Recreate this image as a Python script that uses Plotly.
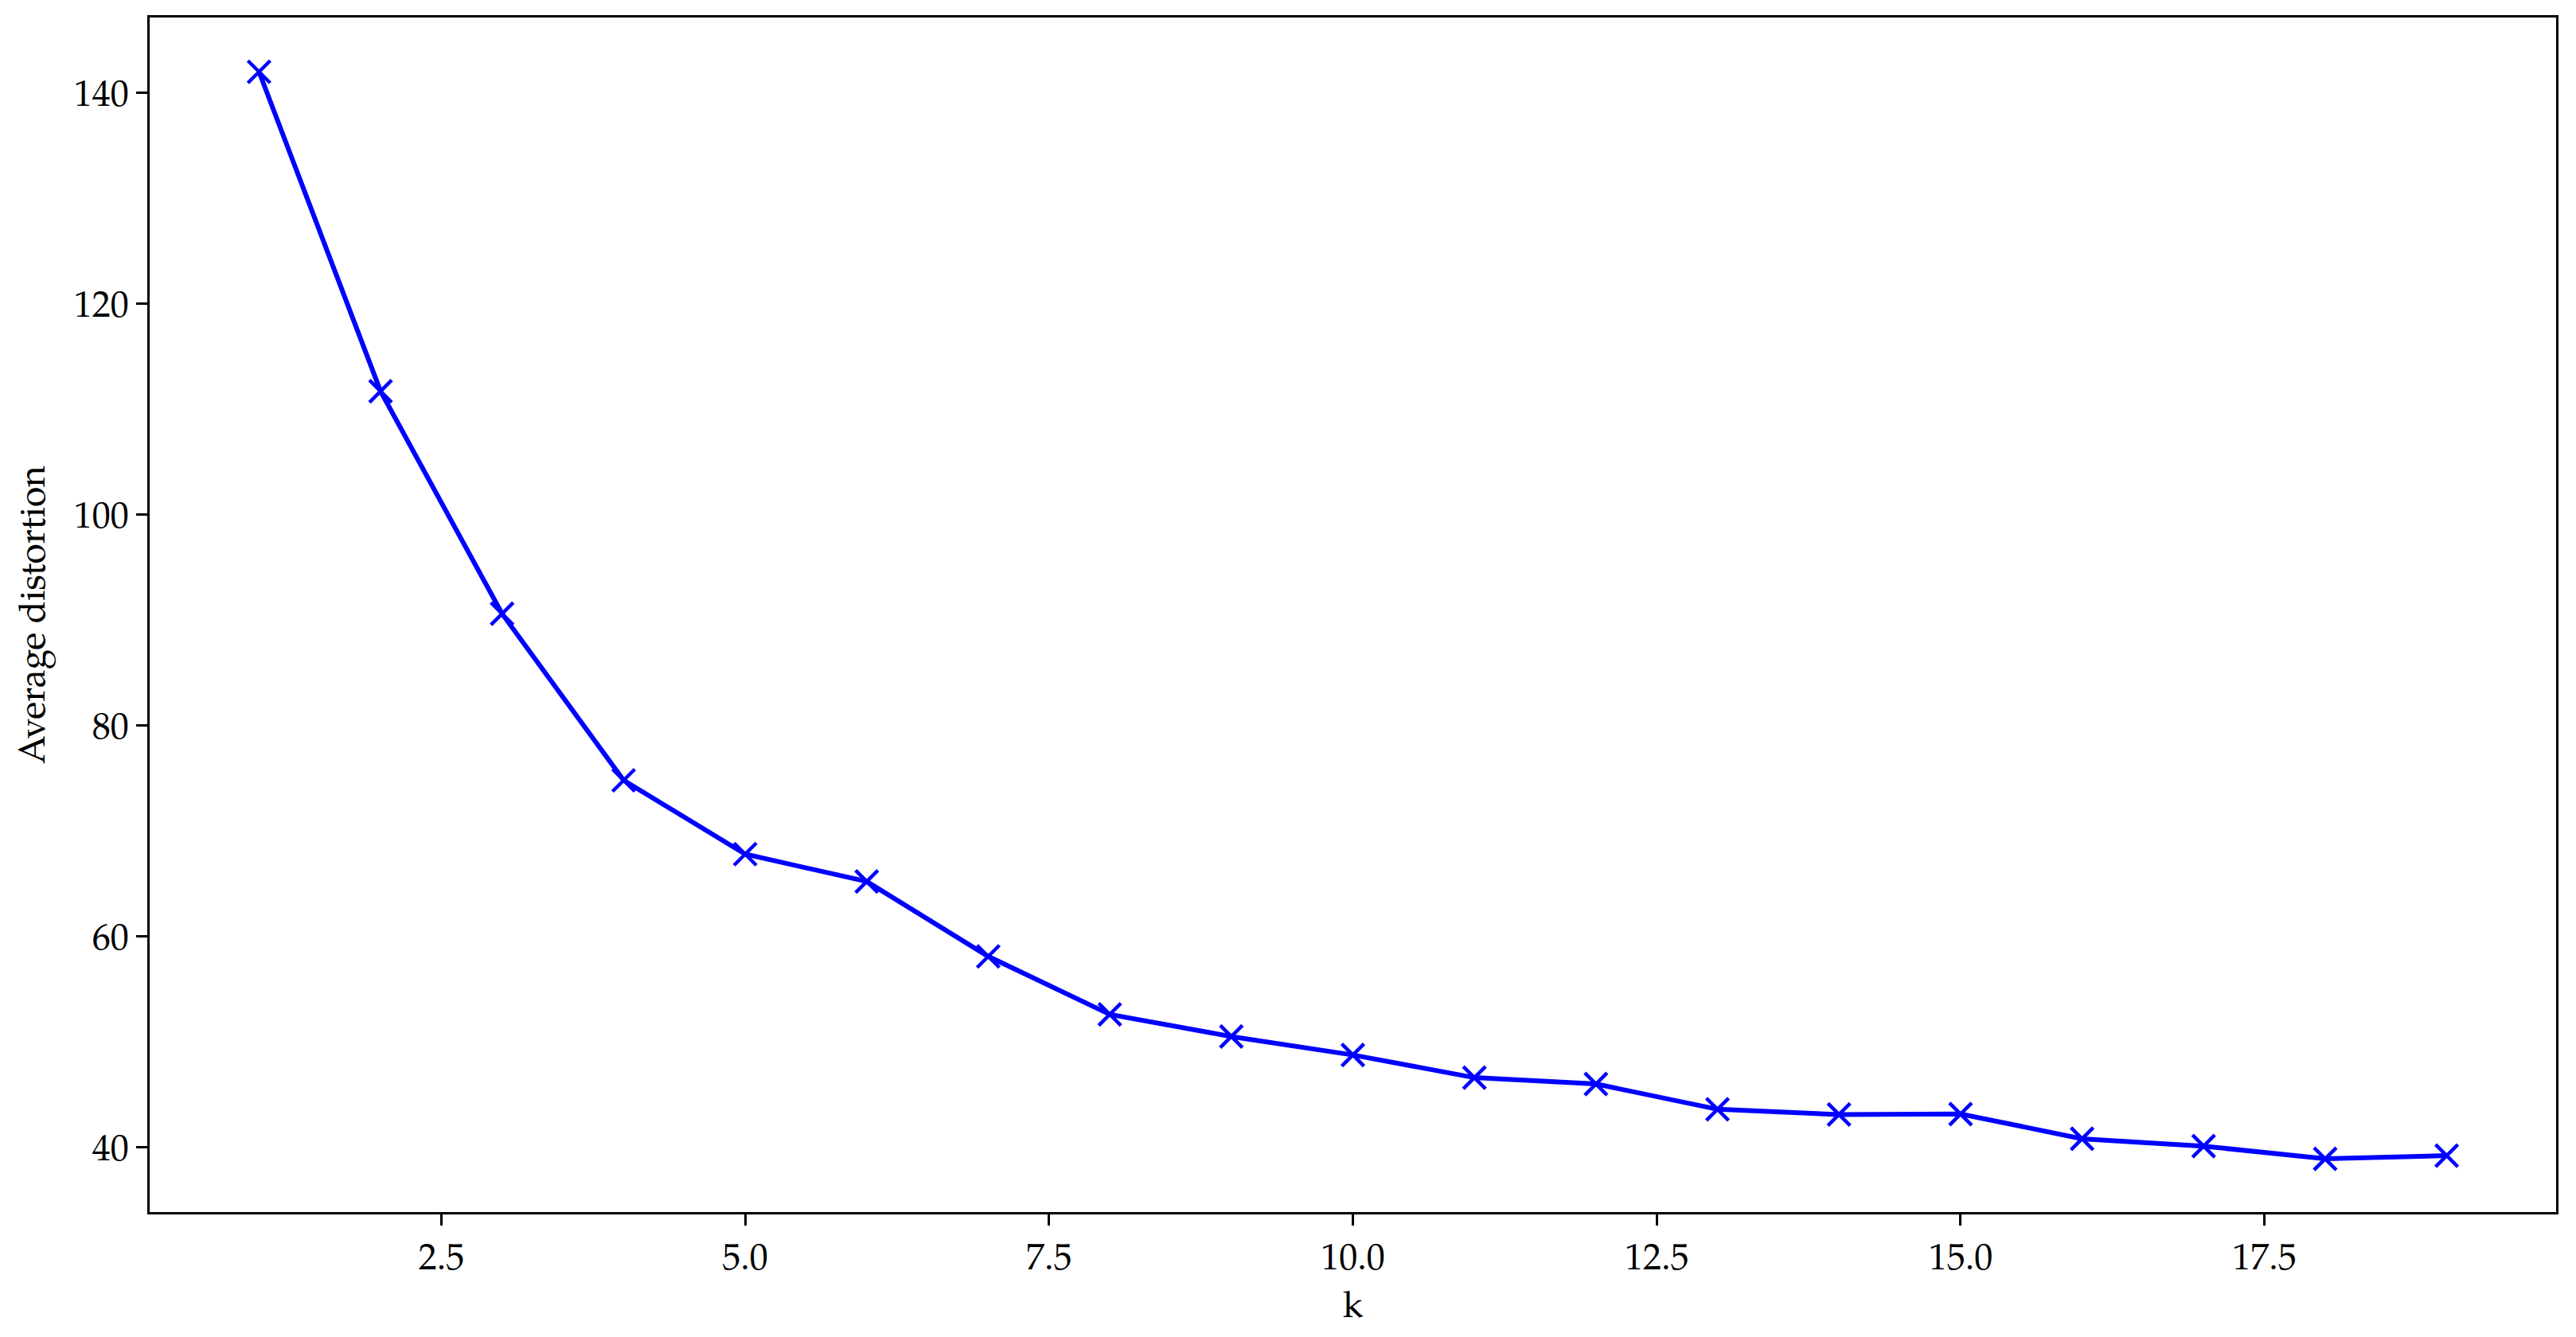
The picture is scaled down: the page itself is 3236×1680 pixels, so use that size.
import plotly.graph_objects as go

k_values = list(range(1, 20))
avg_distortion = [142.0, 111.7, 90.6, 74.8, 67.8, 65.2, 58.1, 52.6, 50.5, 48.75,
                  46.6, 46.0, 43.6, 43.1, 43.15, 40.8, 40.1, 38.9, 39.2]
x_tick_vals = [2.5, 5.0, 7.5, 10.0, 12.5, 15.0, 17.5]
y_tick_vals = [40, 60, 80, 100, 120, 140]

FONT = "Palatino Linotype, Palatino, Book Antiqua, TeX Gyre Pagella, Liberation Serif, serif"

fig = go.Figure()
fig.add_trace(go.Scatter(
    x=k_values, y=avg_distortion, mode="lines+markers",
    line=dict(color="#0000ff", width=6),
    marker=dict(symbol="x-thin", size=28, color="#0000ff",
                line=dict(color="#0000ff", width=4.5)),
    showlegend=False,
))

axis_common = dict(
    showline=True, linecolor="black", linewidth=3.3, mirror=True,
    ticks="outside", ticklen=14, tickwidth=3.3, tickcolor="black",
    showgrid=False, zeroline=False,
    tickfont=dict(family=FONT, size=46, color="black"),
)

fig.update_layout(
    width=3236, height=1680,
    margin=dict(l=180, r=33, t=14, b=165),
    paper_bgcolor="white", plot_bgcolor="white",
    font=dict(family=FONT, color="black"),
    xaxis=dict(range=[0.1, 19.9], tickvals=x_tick_vals, tickformat=".1f",
               title=dict(text="k", font=dict(family=FONT, size=46, color="black"), standoff=16),
               **axis_common),
    yaxis=dict(range=[33.85, 147.15], tickvals=y_tick_vals,
               title=dict(text="Average distortion", font=dict(family=FONT, size=46, color="black"), standoff=22),
               **axis_common),
)

fig.write_html("out.html")
